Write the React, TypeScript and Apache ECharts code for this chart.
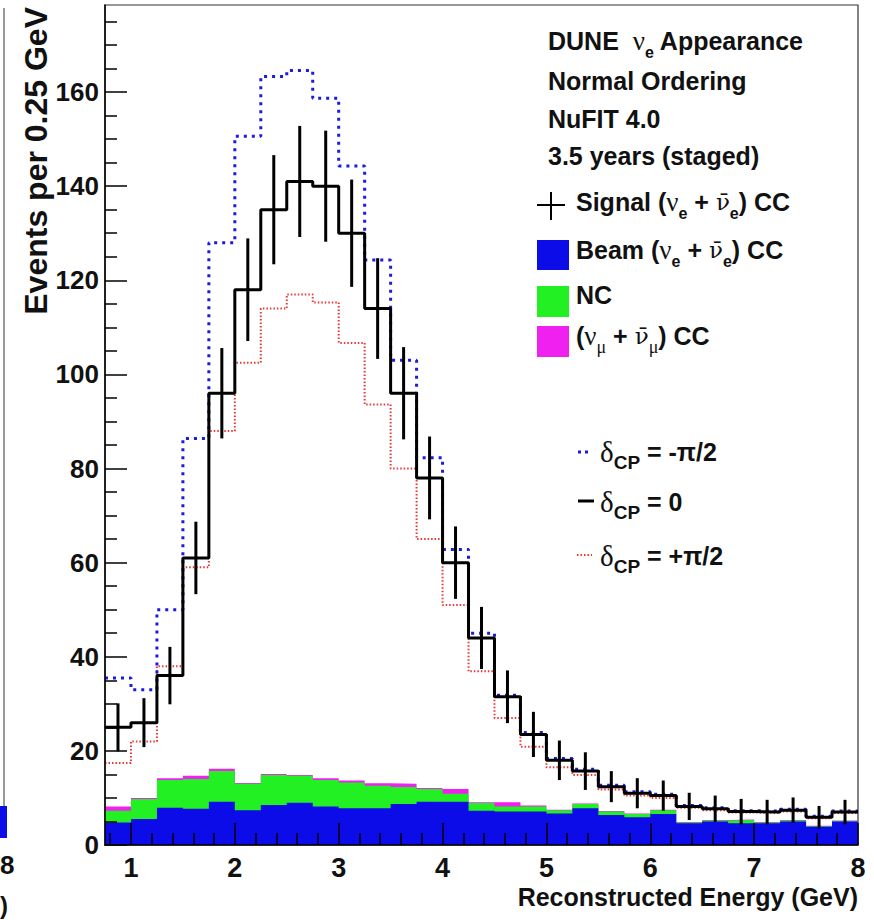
import React, { useEffect, useRef } from "react";
import * as echarts from "echarts";

// ---------------- data ----------------
const binLowEdges = [
  0.75, 1.0, 1.25, 1.5, 1.75, 2.0, 2.25, 2.5, 2.75, 3.0, 3.25, 3.5, 3.75, 4.0, 4.25,
  4.5, 4.75, 5.0, 5.25, 5.5, 5.75, 6.0, 6.25, 6.5, 6.75, 7.0, 7.25, 7.5, 7.75,
];
const X_MIN = 0.75;
const X_MAX = 8;
const Y_MAX = 178.5;

// delta_CP = 0 (signal, with error bars)
const signalCP0 = [
  25, 26, 36, 61, 96, 118, 135, 141, 140, 130, 114, 96, 78, 60, 44, 31.5, 23.5, 18, 15.7,
  12.4, 11, 10.5, 8.2, 7.7, 7.1, 7, 7.4, 5.9, 7,
];
const signalErr = [
  5.1, 5.2, 6.1, 7.7, 9.6, 10.9, 11.6, 11.8, 11.8, 11.4, 10.7, 9.8, 8.8, 7.7, 6.6, 5.6, 4.8,
  4.2, 4.0, 3.3, 3.2, 3.2, 2.9, 2.8, 2.7, 2.6, 2.7, 2.4, 2.6,
];
// delta_CP = -pi/2
const cpMinusHalfPi = [
  35.5, 33, 50, 86.4, 128, 150.6, 163.3, 164.6, 158.7, 144.3, 124.3, 103, 82.3, 62.8, 45,
  31.8, 23.9, 18.4, 16.1, 12.7, 11.3, 10.8, 8.4, 7.9, 7.3, 7.2, 7.6, 6.1, 7.2,
];
// delta_CP = +pi/2
const cpPlusHalfPi = [
  17.4, 22, 38, 59, 88, 102.5, 114, 117, 115.3, 106.7, 93.6, 80, 65, 51, 36.9, 27, 20.9,
  16.5, 14.9, 11.8, 10.5, 10, 7.9, 7.4, 6.9, 6.8, 7.1, 5.7, 6.8,
];
// stacked backgrounds
const beamCC = [
  4.8, 5.5, 7.9, 7.7, 9.2, 7.4, 8.5, 9.0, 8.2, 7.8, 7.8, 8.7, 9.2, 9.2, 7.3, 7.1, 7.1, 6.7,
  7.8, 6.4, 5.9, 6.6, 4.6, 5.0, 4.6, 4.6, 5.0, 3.9, 5.0,
];
const ncBkg = [
  2.5, 4.3, 5.9, 6.3, 6.5, 5.6, 6.4, 5.7, 5.6, 5.5, 4.8, 3.6, 2.7, 1.7, 1.6, 1.1, 1.1, 0.7,
  0.9, 0.7, 0.7, 0.8, 0.2, 0.2, 0.7, 0.2, 0.2, 0.1, 0.1,
];
const numuCC = [
  0.9, 0.2, 0.4, 0.7, 0.5, 0.2, 0.2, 0.2, 0.4, 0.4, 0.5, 0.7, 0.2, 1.0, 0.2, 0.9, 0.2, 0.1,
  0.1, 0.1, 0.1, 0.1, 0.1, 0.1, 0.1, 0.1, 0.1, 0.1, 0.1,
];

const xMajorTicks = [1, 2, 3, 4, 5, 6, 7, 8];
const yMajorTicks = [0, 20, 40, 60, 80, 100, 120, 140, 160];

// ---------------- styling ----------------
const FONT = "'Liberation Sans', Arial, Helvetica, sans-serif";
const SERIF = "'Liberation Serif', 'DejaVu Serif', serif";
const SERIF_BAR = "'DejaVu Serif', 'Liberation Serif', serif";
const BLUE = "#0c0ce8";
const GREEN = "#22f022";
const MAGENTA = "#f020f0";
const LINE_BLUE = "#1a1ae0";
const LINE_RED = "#ee3535";

const xMinorTicks: number[] = [];
for (let k = 4; k <= 40; k++) {
  const v = Math.round(k * 0.2 * 100) / 100;
  if (v > X_MIN && v < X_MAX && !Number.isInteger(v)) xMinorTicks.push(v);
}
const yMinorTicks: number[] = [];
for (let v = 5; v < Y_MAX; v += 5) if (v % 20 !== 0) yMinorTicks.push(v);

const binCenters = binLowEdges.map(
  (e, i) => (e + (i + 1 < binLowEdges.length ? binLowEdges[i + 1] : X_MAX)) / 2
);
const stepData = (vals: number[]) =>
  vals.map((v, i) => [binLowEdges[i], v]).concat([[X_MAX, vals[vals.length - 1]]]);

const cumNC = beamCC.map((b, i) => b + ncBkg[i]);
const cumAll = cumNC.map((c, i) => c + numuCC[i]);

const RICH: any = {
  m: { fontSize: 25, fontWeight: "bold", fontFamily: FONT, height: 28, verticalAlign: "top", lineHeight: 36, fill: "#111" },
  g: { fontSize: 27, fontFamily: SERIF, height: 28, verticalAlign: "top", lineHeight: 36, fill: "#111" },
  gb: { fontSize: 23, fontFamily: SERIF_BAR, height: 28, verticalAlign: "top", lineHeight: 36, fill: "#111" },
  s: { fontSize: 16, fontWeight: "bold", fontFamily: FONT, height: 16, padding: [17, 0, 0, 0], verticalAlign: "top", lineHeight: 36, fill: "#111" },
  sg: { fontSize: 18, fontFamily: SERIF, height: 16, padding: [17, 0, 0, 0], verticalAlign: "top", lineHeight: 36, fill: "#111" },
  d: { fontSize: 29, fontFamily: SERIF, height: 28, verticalAlign: "top", lineHeight: 36, fill: "#111" },
  cp: { fontSize: 19, fontWeight: "bold", fontFamily: FONT, height: 19, padding: [15, 0, 0, 0], verticalAlign: "top", lineHeight: 36, fill: "#111" },
};

const richText = (x: number, capCenter: number, text: string) => ({
  type: "text",
  x,
  y: capCenter - 14,
  z: 20,
  style: { text, rich: RICH, align: "left", verticalAlign: "top", textAlign: "left", textVerticalAlign: "top" },
});

const NUBAR = "\u03bd\u0304";

const plainText = (x: number, y: number, text: string, size: number, align: string, rotation = 0) => ({
  type: "text",
  x,
  y,
  rotation,
  z: 20,
  style: {
    text,
    font: `bold ${size}px ${FONT}`,
    fill: "#111",
    align,
    verticalAlign: "middle",
    textAlign: align,
    textVerticalAlign: "middle",
  },
});

const graphics: any[] = [
  // header
  richText(548, 41, "{m|DUNE  }{g|ν}{s|e}{m| Appearance}"),
  richText(548, 80.5, "{m|Normal Ordering}"),
  richText(548, 119, "{m|NuFIT 4.0}"),
  richText(548, 156, "{m|3.5 years (staged)}"),
  // legend entries
  richText(576, 202, `{m|Signal (}{g|ν}{s|e}{m| + }{gb|${NUBAR}}{s|e}{m|) CC}`),
  richText(576, 250, `{m|Beam (}{g|ν}{s|e}{m| + }{gb|${NUBAR}}{s|e}{m|) CC}`),
  richText(576, 295, "{m|NC}"),
  richText(576, 336, `{m|(}{g|ν}{sg|μ}{m| + }{gb|${NUBAR}}{sg|μ}{m|) CC}`),
  richText(600, 452, "{d|δ}{cp|CP}{m| = -π/2}"),
  richText(600, 502, "{d|δ}{cp|CP}{m| = 0}"),
  richText(600, 556, "{d|δ}{cp|CP}{m| = +π/2}"),
  // legend symbols
  { type: "line", z: 20, shape: { x1: 537, y1: 205, x2: 565, y2: 205 }, style: { stroke: "#000", lineWidth: 2 } },
  { type: "line", z: 20, shape: { x1: 551, y1: 192, x2: 551, y2: 220 }, style: { stroke: "#000", lineWidth: 2 } },
  { type: "rect", z: 20, shape: { x: 537, y: 240, width: 32, height: 30 }, style: { fill: BLUE } },
  { type: "rect", z: 20, shape: { x: 537, y: 286, width: 32, height: 31 }, style: { fill: GREEN } },
  { type: "rect", z: 20, shape: { x: 537, y: 326, width: 32, height: 31 }, style: { fill: MAGENTA } },
  { type: "line", z: 20, shape: { x1: 578, y1: 452, x2: 592, y2: 452 }, style: { stroke: LINE_BLUE, lineWidth: 3, lineDash: [3, 4] } },
  { type: "line", z: 20, shape: { x1: 578, y1: 501, x2: 594, y2: 501 }, style: { stroke: "#000", lineWidth: 3 } },
  { type: "line", z: 20, shape: { x1: 577, y1: 555, x2: 592, y2: 555 }, style: { stroke: LINE_RED, lineWidth: 2, lineDash: [1.5, 2] } },
  // axis titles
  plainText(36, 7, "Events per 0.25 GeV", 32, "right", Math.PI / 2),
  plainText(858, 897, "Reconstructed Energy (GeV)", 25, "right"),
  // fragment of the neighbouring panel at the left edge
  { type: "line", z: 20, shape: { x1: 4, y1: 8, x2: 4, y2: 838 }, style: { stroke: "#777", lineWidth: 1.5 } },
  { type: "rect", z: 20, shape: { x: 0, y: 806, width: 7, height: 32 }, style: { fill: BLUE } },
  plainText(0, 865, "8", 26, "left"),
  plainText(0, 905, ")", 24, "left"),
];

const axisLabelStyle = { color: "#111", fontSize: 26, fontWeight: "bold", fontFamily: FONT };

const option: any = {
  animation: false,
  backgroundColor: "#fff",
  grid: {
    left: 105, right: 16, top: 5, bottom: 75,
    show: true, borderColor: "#333", borderWidth: 1.2, backgroundColor: "transparent",
  },
  xAxis: [
    {
      type: "value", min: X_MIN, max: X_MAX, position: "bottom", z: 10,
      axisLine: { show: true, onZero: false, lineStyle: { color: "#000", width: 1.5 } },
      axisTick: { show: true, inside: true, length: 22, customValues: xMajorTicks, lineStyle: { color: "#000", width: 1.5 } },
      axisLabel: { show: true, customValues: xMajorTicks, margin: 9, ...axisLabelStyle, fontSize: 27 },
      splitLine: { show: false },
    },
    {
      type: "value", min: X_MIN, max: X_MAX, position: "bottom", z: 10,
      axisLine: { show: false },
      axisTick: { show: true, inside: true, length: 12, customValues: xMinorTicks, lineStyle: { color: "#000", width: 1.5 } },
      axisLabel: { show: false },
      splitLine: { show: false },
    },
  ],
  yAxis: [
    {
      type: "value", min: 0, max: Y_MAX, position: "left", z: 10,
      axisLine: { show: true, onZero: false, lineStyle: { color: "#000", width: 1.5 } },
      axisTick: { show: true, inside: true, length: 22, customValues: yMajorTicks, lineStyle: { color: "#000", width: 1.5 } },
      axisLabel: { show: true, customValues: yMajorTicks, margin: 6, ...axisLabelStyle },
      splitLine: { show: false },
    },
    {
      type: "value", min: 0, max: Y_MAX, position: "left", z: 10,
      axisLine: { show: false },
      axisTick: { show: true, inside: true, length: 12, customValues: yMinorTicks, lineStyle: { color: "#000", width: 1.5 } },
      axisLabel: { show: false },
      splitLine: { show: false },
    },
  ],
  series: [
    {
      name: "(numu + numubar) CC", type: "line", step: "end", data: stepData(cumAll), symbol: "none", z: 1,
      lineStyle: { width: 0 }, areaStyle: { color: MAGENTA, opacity: 1 },
    },
    {
      name: "NC", type: "line", step: "end", data: stepData(cumNC), symbol: "none", z: 1,
      lineStyle: { width: 0 }, areaStyle: { color: GREEN, opacity: 1 },
    },
    {
      name: "Beam (nue + nuebar) CC", type: "line", step: "end", data: stepData(beamCC), symbol: "none", z: 1,
      lineStyle: { width: 0 }, areaStyle: { color: BLUE, opacity: 1 },
    },
    {
      name: "dCP = +pi/2", type: "line", step: "end", data: stepData(cpPlusHalfPi), symbol: "none", z: 3,
      lineStyle: { color: LINE_RED, width: 2, type: [1.5, 2] },
    },
    {
      name: "dCP = -pi/2", type: "line", step: "end", data: stepData(cpMinusHalfPi), symbol: "none", z: 3,
      lineStyle: { color: LINE_BLUE, width: 3, type: [3, 5] },
    },
    {
      name: "dCP = 0", type: "line", step: "end", data: stepData(signalCP0), symbol: "none", z: 4,
      lineStyle: { color: "#000", width: 3 },
    },
    {
      name: "errors", type: "custom", z: 5,
      data: signalCP0.map((v, i) => [binCenters[i], v - signalErr[i], v + signalErr[i]]),
      encode: { x: 0, y: [1, 2] },
      renderItem: (_params: any, api: any) => {
        const x = api.value(0);
        const lo = api.coord([x, api.value(1)]);
        const hi = api.coord([x, api.value(2)]);
        return {
          type: "line",
          shape: { x1: lo[0], y1: lo[1], x2: hi[0], y2: hi[1] },
          style: { stroke: "#000", lineWidth: 3 },
        };
      },
    },
  ],
  graphic: graphics,
};

export default function App() {
  const ref = useRef<HTMLDivElement>(null);
  useEffect(() => {
    if (!ref.current) return;
    const chart = echarts.init(ref.current, null, { renderer: "svg" });
    chart.setOption(option);
    return () => chart.dispose();
  }, []);
  return (
    <div
      ref={ref}
      style={{ position: "absolute", left: 0, top: 0, width: 874, height: 920, background: "#fff" }}
    />
  );
}
